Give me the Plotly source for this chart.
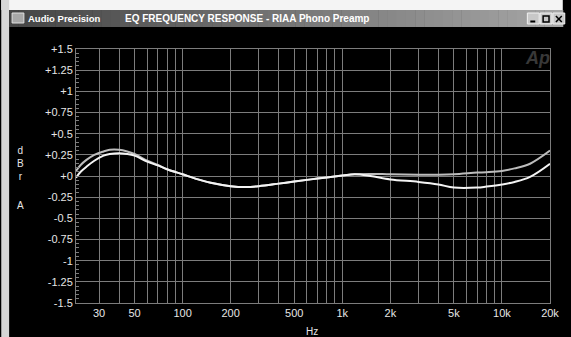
import plotly.graph_objects as go
import math

# ---------------- data ----------------
freq_hz = [21.5, 23, 25, 28, 32, 35, 40, 45, 50, 60, 70, 80, 100, 125, 150, 200,
           250, 300, 400, 500, 700, 1000, 1200, 1500, 2000, 3000, 4000, 5000,
           7000, 8000, 10000, 12000, 15000, 20000]
ch1_dbr = [0.06, 0.13, 0.19, 0.25, 0.29, 0.31, 0.31, 0.29, 0.26, 0.18, 0.13, 0.08,
           0.02, -0.04, -0.08, -0.12, -0.13, -0.12, -0.09, -0.065, -0.03, 0.005,
           0.02, 0.025, 0.02, 0.015, 0.015, 0.02, 0.04, 0.045, 0.06, 0.09, 0.145, 0.30]
ch2_dbr = [-0.02, 0.05, 0.11, 0.18, 0.24, 0.26, 0.27, 0.26, 0.24, 0.17, 0.125, 0.08,
           0.02, -0.04, -0.08, -0.12, -0.13, -0.12, -0.09, -0.065, -0.03, 0.005,
           0.02, 0.0, -0.04, -0.07, -0.10, -0.137, -0.137, -0.125, -0.10, -0.07, -0.01, 0.145]

y_tickvals = [1.5, 1.25, 1, 0.75, 0.5, 0.25, 0, -0.25, -0.5, -0.75, -1, -1.25, -1.5]
y_ticktext = ["+1.5", "+1.25", "+1", "+0.75", "+0.5", "+0.25", "+0",
              "-0.25", "-0.5", "-0.75", "-1", "-1.25", "-1.5"]
x_tickvals = [30, 50, 100, 200, 500, 1000, 2000, 5000, 10000, 20000]
x_ticktext = ["30", "50", "100", "200", "500", "1k", "2k", "5k", "10k", "20k"]
x_gridvals = [30, 40, 50, 60, 70, 80, 90, 100, 200, 300, 400, 500, 600, 700, 800, 900,
              1000, 2000, 3000, 4000, 5000, 6000, 7000, 8000, 9000, 10000]

title_left = "Audio Precision"
title_main = "EQ FREQUENCY RESPONSE - RIAA Phono Preamp"

# ---------------- geometry ----------------
W, H = 571, 337
L, R, T, B = 76, 558, 49, 303
GRID = "#7c7c7c"
TXT = "#e6e6e6"
FONT = "Liberation Sans"


def px(X):
    return (X - L) / (R - L)


def py(Y):
    return (B - Y) / (B - T)


fig = go.Figure()
fig.add_trace(go.Scatter(x=freq_hz, y=ch1_dbr, mode="lines", line=dict(color="#bdbdbd", width=2, shape="spline"),
                         showlegend=False, hoverinfo="skip"))
fig.add_trace(go.Scatter(x=freq_hz, y=ch2_dbr, mode="lines", line=dict(color="#f4f4f4", width=2, shape="spline"),
                         showlegend=False, hoverinfo="skip"))

shapes = []
# light window frame (top and left)
shapes.append(dict(type="rect", xref="paper", yref="paper", x0=px(0), x1=px(W), y0=py(0), y1=py(10),
                   fillcolor="#f4f4f4", line_width=0, layer="below"))
shapes.append(dict(type="rect", xref="paper", yref="paper", x0=px(0), x1=px(8), y0=py(0), y1=py(H),
                   fillcolor="#d6d6d6", line_width=0, layer="below"))
# title bar gradient
n = 60
x_start, x_end = 8, W
for i in range(n):
    x0 = x_start + (x_end - x_start) * i / n
    x1 = x_start + (x_end - x_start) * (i + 1) / n + 0.5
    t = i / (n - 1)
    c = int(0x46 + (0xa6 - 0x46) * t)
    shapes.append(dict(type="rect", xref="paper", yref="paper", x0=px(x0), x1=px(x1), y0=py(10), y1=py(27),
                       fillcolor=f"rgb({c},{c},{c})", line_width=0, layer="below"))
# title bar icon
shapes.append(dict(type="rect", xref="paper", yref="paper", x0=px(11), x1=px(23), y0=py(13), y1=py(23),
                   fillcolor="#a8a8a8", line=dict(color="#e0e0e0", width=1), layer="below"))
# window buttons
for bx in (535, 548, 561):
    shapes.append(dict(type="rect", xref="paper", yref="paper", x0=px(bx), x1=px(bx + 12), y0=py(13), y1=py(24),
                       fillcolor="#c8c8c8", line=dict(color="#f0f0f0", width=1), layer="below"))
shapes.append(dict(type="line", xref="paper", yref="paper", x0=px(538), x1=px(543), y0=py(21.5), y1=py(21.5),
                   line=dict(color="#000000", width=2)))
shapes.append(dict(type="rect", xref="paper", yref="paper", x0=px(551), x1=px(557), y0=py(16), y1=py(22),
                   line=dict(color="#000000", width=1.5)))
shapes.append(dict(type="line", xref="paper", yref="paper", x0=px(564), x1=px(570), y0=py(16), y1=py(22),
                   line=dict(color="#000000", width=1.5)))
shapes.append(dict(type="line", xref="paper", yref="paper", x0=px(564), x1=px(570), y0=py(22), y1=py(16),
                   line=dict(color="#000000", width=1.5)))

annotations = [
    dict(text="<b>" + title_left + "</b>", x=px(25), y=py(18.5), xref="paper", yref="paper",
         xanchor="left", yanchor="middle", showarrow=False, font=dict(family=FONT, size=9.5, color="#ffffff")),
    dict(text="<b>" + title_main + "</b>", x=px(124), y=py(18.5), xref="paper", yref="paper",
         xanchor="left", yanchor="middle", showarrow=False, font=dict(family=FONT, size=10, color="#ffffff")),
    dict(text="d<br>B<br>r", x=px(20), y=py(163), xref="paper", yref="paper", xanchor="center",
         yanchor="middle", showarrow=False, font=dict(family=FONT, size=10, color=TXT)),
    dict(text="A", x=px(20), y=py(205), xref="paper", yref="paper", xanchor="center",
         yanchor="middle", showarrow=False, font=dict(family=FONT, size=10, color=TXT)),
    dict(text="Hz", x=px(316), y=py(331), xref="paper", yref="paper", xanchor="center",
         yanchor="middle", showarrow=False, font=dict(family=FONT, size=10, color=TXT)),
    dict(text="<b><i>Ap</i></b>", x=px(545), y=py(58), xref="paper", yref="paper", xanchor="center",
         yanchor="middle", showarrow=False, font=dict(family=FONT, size=18, color="#383838")),
]

fig.update_layout(
    width=W, height=H,
    margin=dict(l=L, r=W - R, t=T, b=H - B, pad=0),
    paper_bgcolor="#000000", plot_bgcolor="#000000",
    shapes=shapes, annotations=annotations,
    font=dict(family=FONT, size=10, color=TXT),
    xaxis=dict(type="log", range=[math.log10(21.5), math.log10(20000)],
               tickmode="array", tickvals=x_tickvals, ticktext=x_ticktext,
               showgrid=True, gridcolor=GRID, gridwidth=1, ticks="",
               showline=True, linecolor=GRID, linewidth=1, mirror=True, zeroline=False,
               tickfont=dict(family=FONT, size=11, color=TXT),
               minor=dict(tickmode="array", tickvals=x_gridvals, showgrid=True, gridcolor=GRID,
                          gridwidth=1, ticks="")),
    yaxis=dict(range=[-1.5, 1.5], tickmode="array", tickvals=y_tickvals, ticktext=y_ticktext,
               showgrid=True, gridcolor=GRID, gridwidth=1, zeroline=False,
               ticks="inside", ticklen=5, tickcolor=GRID,
               showline=True, linecolor=GRID, linewidth=1, mirror=True,
               tickfont=dict(family=FONT, size=11, color=TXT),
               minor=dict(dtick=0.05, tick0=0, ticks="inside", ticklen=3, tickcolor=GRID, showgrid=False)),
)

fig.write_html("out.html", config={"displayModeBar": False},
               post_script="document.body.style.margin='0';document.body.style.overflow='hidden';")
